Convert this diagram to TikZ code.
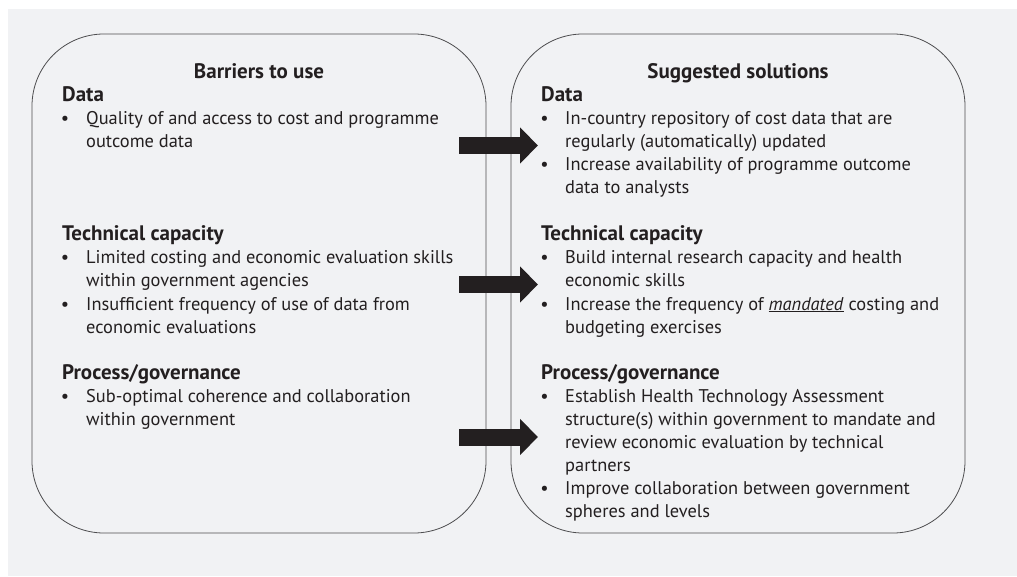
\documentclass[tikz,border=0pt]{standalone}
\usepackage{fontspec}
\setmainfont{PT Sans}
\usepackage{tikz}
\usetikzlibrary{arrows.meta}
\definecolor{bggray}{HTML}{F1F2F4}
\definecolor{inkgray}{HTML}{231F20}
\definecolor{framegray}{HTML}{4D4D4F}

\begin{document}
\begin{tikzpicture}[x=1pt,y=-1pt,inkgray,
  panel/.style={draw=framegray,line width=0.8pt,rounded corners=72pt},
  txt/.style={anchor=base west,inner sep=0pt,align=left,font=\fontsize{18.4}{23}\selectfont},
  secthead/.style={anchor=base west,inner sep=0pt,font=\fontsize{21}{23}\selectfont\bfseries},
  coltitle/.style={anchor=base,inner sep=0pt,font=\fontsize{21}{23}\selectfont\bfseries},
  bul/.style={anchor=base,inner sep=0pt,font=\fontsize{18.4}{23}\selectfont},
  fatarrow/.style={line width=17pt,-{Triangle[length=18pt,width=35pt]}}]
  \useasboundingbox (0,0) rectangle (1017,577);
  \fill[white] (0,0) rectangle (1017,577);
  \fill[bggray] (8,9) rectangle (1017,576);

  % the two panels
  \draw[panel] (32,34) rectangle (486,533);
  \draw[panel] (511,34) rectangle (965,533);

  % barriers (text nodes sit on the baseline of their last line)
  \node[coltitle] (ltitle) at (259,79) {Barriers to use};
  \node[secthead] (ldata) at (62,102) {Data};
  \node[bul] at (65,125) {•};
  \node[txt] (ld1) at (86,148) {Quality of and access to cost and programme\\outcome data};
  \node[secthead] (ltech) at (62,241) {Technical capacity};
  \node[bul] at (65,264) {•};
  \node[txt] (lt1) at (86,287) {Limited costing and economic evaluation skills\\within government agencies};
  \node[bul] at (65,310) {•};
  \node[txt] (lt2) at (86,333) {Insufficient frequency of use of data from\\economic evaluations};
  \node[secthead] (lproc) at (62,379) {Process/governance};
  \node[bul] at (65,402) {•};
  \node[txt] (lp1) at (86,425) {Sub-optimal coherence and collaboration\\within government};

  % solutions
  \node[coltitle] (rtitle) at (738,79) {Suggested solutions};
  \node[secthead] (rdata) at (541,102) {Data};
  \node[bul] at (544.5,125) {•};
  \node[txt] (rd1) at (565,148) {In-country repository of cost data that are\\regularly (automatically) updated};
  \node[bul] at (544.5,171) {•};
  \node[txt] (rd2) at (565,194) {Increase availability of programme outcome\\data to analysts};
  \node[secthead] (rtech) at (541,241) {Technical capacity};
  \node[bul] at (544.5,264) {•};
  \node[txt] (rt1) at (565,287) {Build internal research capacity and health\\economic skills};
  \node[bul] at (544.5,310) {•};
  \node[txt] (rt2) at (565,333) {Increase the frequency of \underline{\textit{mandated}} costing and\\budgeting exercises};
  \node[secthead] (rproc) at (541,379) {Process/governance};
  \node[bul] at (544.5,402) {•};
  \node[txt] (rp1) at (565,471) {Establish Health Technology Assessment\\structure(s) within government to mandate and\\review economic evaluation by technical\\partners};
  \node[bul] at (544.5,494) {•};
  \node[txt] (rp2) at (565,517) {Improve collaboration between government\\spheres and levels};

  % arrows
  \coordinate (a1s) at (459,145.5);
  \coordinate (a1e) at (538,145.5);
  \coordinate (a2s) at (459,284.5);
  \coordinate (a2e) at (538,284.5);
  \coordinate (a3s) at (459,437);
  \coordinate (a3e) at (538,437);
  \draw[fatarrow] (a1s) -- (a1e);
  \draw[fatarrow] (a2s) -- (a2e);
  \draw[fatarrow] (a3s) -- (a3e);
\end{tikzpicture}
\end{document}
